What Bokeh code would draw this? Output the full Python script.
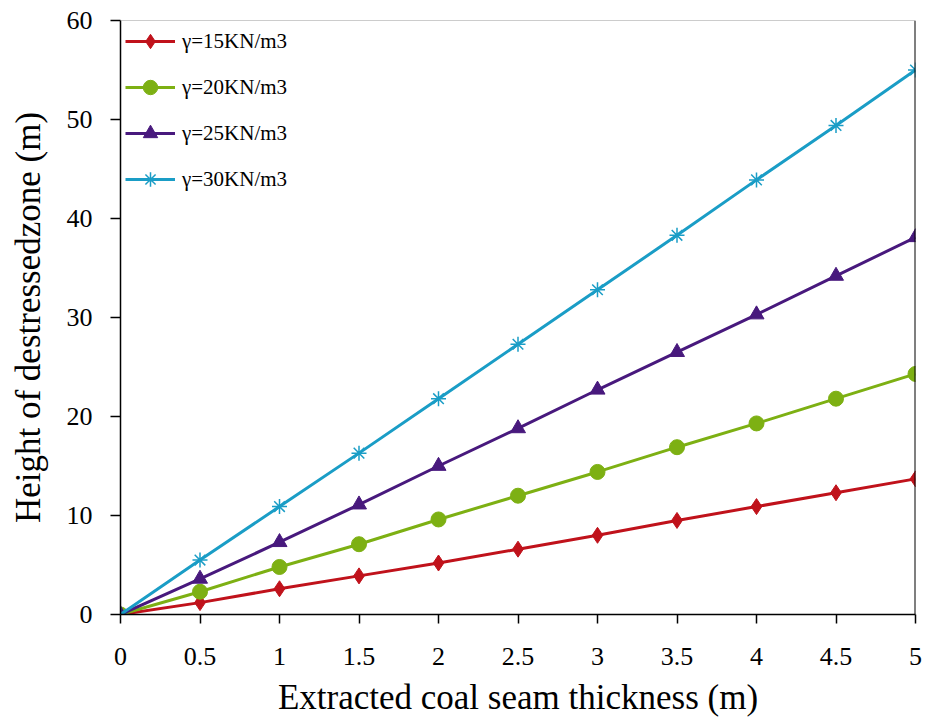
from bokeh.plotting import figure
from bokeh.models import Range1d, FixedTicker, Legend, LegendItem, Span
from bokeh.embed import file_html
from bokeh.resources import INLINE

thickness = [0, 0.5, 1, 1.5, 2, 2.5, 3, 3.5, 4, 4.5, 5]
x_tick_labels = ["0", "0.5", "1", "1.5", "2", "2.5", "3", "3.5", "4", "4.5", "5"]
y_ticks = [0, 10, 20, 30, 40, 50, 60]

h15 = [0, 1.2, 2.6, 3.9, 5.2, 6.6, 8.0, 9.5, 10.9, 12.3, 13.7]
h20 = [0, 2.3, 4.8, 7.1, 9.6, 12.0, 14.4, 16.9, 19.3, 21.8, 24.3]
h25 = [0, 3.6, 7.3, 11.1, 15.0, 18.8, 22.7, 26.5, 30.3, 34.2, 38.1]
h30 = [0, 5.5, 10.9, 16.3, 21.8, 27.3, 32.8, 38.3, 43.9, 49.4, 55.0]

names = ["γ=15KN/m3", "γ=20KN/m3", "γ=25KN/m3", "γ=30KN/m3"]
colors = ["#C0121B", "#7DB013", "#48197D", "#1A9DC6"]

FONT = "Liberation Serif"

p = figure(width=926, height=721, output_backend="svg", toolbar_location=None,
           x_range=Range1d(0, 5), y_range=Range1d(0, 60),
           min_border_left=120, min_border_right=11, min_border_top=20, min_border_bottom=107)
p.xgrid.visible = False
p.ygrid.visible = False
p.outline_line_color = None
p.background_fill_color = "white"

items = []
series = [h15, h20, h25, h30]
for i, (ys, name, c) in enumerate(zip(series, names, colors)):
    r_line = p.line(thickness, ys, line_color=c, line_width=3)
    if i == 0:
        r_m = p.scatter(thickness, ys, marker="diamond", size=16, fill_color=c, line_color=c)
    elif i == 1:
        r_m = p.scatter(thickness, ys, marker="circle", size=15, fill_color=c, line_color=c)
    elif i == 2:
        r_m = p.scatter(thickness, ys, marker="triangle", size=15, fill_color=c, line_color=c)
    else:
        r_m = p.scatter(thickness, ys, marker="asterisk", size=15, fill_color=c, line_color=c, line_width=1.5)
    items.append(LegendItem(label=name, renderers=[r_line, r_m]))

legend = Legend(items=items, location=(5, 417), border_line_color=None,
                background_fill_alpha=0, padding=0, margin=0,
                glyph_width=50, glyph_height=36, label_height=20, spacing=10,
                label_standoff=7, label_text_font=FONT, label_text_font_size="21px",
                label_text_color="black")
p.add_layout(legend, "center")

p.add_layout(Span(location=5, dimension="height", line_color="black", line_width=2))
p.add_layout(Span(location=60, dimension="width", line_color="#999999", line_width=1))

p.xaxis.ticker = FixedTicker(ticks=thickness)
p.xaxis.major_label_overrides = {t: s for t, s in zip(thickness, x_tick_labels)}
p.yaxis.ticker = FixedTicker(ticks=y_ticks)

for ax in (p.xaxis[0], p.yaxis[0]):
    ax.axis_line_color = "black"
    ax.axis_line_width = 1.5
    ax.major_tick_line_color = "black"
    ax.major_tick_line_width = 1.5
    ax.major_tick_out = 9
    ax.major_tick_in = 0
    ax.minor_tick_line_color = None
    ax.major_label_text_font = FONT
    ax.major_label_text_font_size = "26px"
    ax.major_label_text_color = "black"
    ax.axis_label_text_font = FONT
    ax.axis_label_text_font_size = "35px"
    ax.axis_label_text_font_style = "normal"
    ax.axis_label_text_color = "black"

p.xaxis.major_label_standoff = 24
p.yaxis.major_label_standoff = 18
p.yaxis.major_tick_out = 10
p.xaxis.axis_label = "Extracted coal seam thickness (m)"
p.yaxis.axis_label = "Height of destressedzone (m)"
p.xaxis.axis_label_standoff = 10
p.yaxis.axis_label_standoff = 16

open("out.html", "w").write(file_html(p, INLINE))
